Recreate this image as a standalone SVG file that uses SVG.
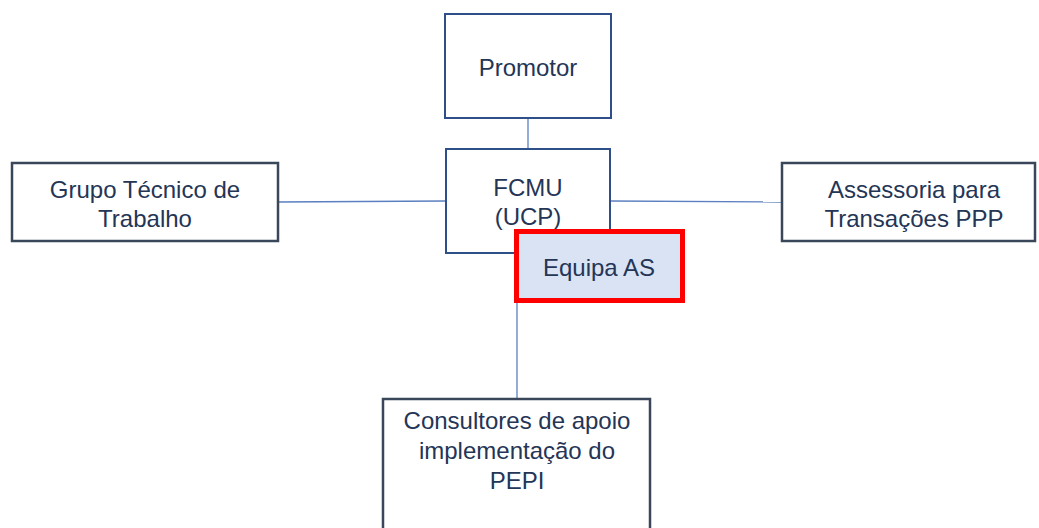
<svg xmlns="http://www.w3.org/2000/svg" width="1039" height="528" viewBox="0 0 1039 528">
<style>
.box{fill:#fff;stroke:#2F4F8A;stroke-width:2}
.gbox{fill:#fff;stroke:#3A475A;stroke-width:2.5}
.t{font-family:"Liberation Sans",Arial,sans-serif;font-size:24px;fill:#243556;text-anchor:middle}
.c{stroke:#5B7FC0;stroke-width:1.3;fill:none}
</style>
<rect width="1039" height="528" fill="#fff"/>
<g id="connectors">
<line class="c" x1="528" y1="118" x2="528" y2="149"/>
<line class="c" x1="278" y1="202" x2="446" y2="201"/>
<line class="c" x1="610" y1="201" x2="782" y2="202"/>
<line class="c" x1="517" y1="268" x2="517" y2="399"/>
</g>
<g id="promotor">
<rect class="box" x="445" y="14" width="166" height="104" stroke-width="3"/>
<text class="t" x="528" y="76">Promotor</text>
</g>
<g id="fcmu">
<rect class="box" x="446" y="149" width="164" height="104"/>
<text class="t" x="528" y="196">FCMU</text>
<text class="t" x="528" y="225">(UCP)</text>
</g>
<g id="grupo">
<rect class="gbox" x="12" y="163" width="266" height="78"/>
<text class="t" x="145" y="198">Grupo Técnico de</text>
<text class="t" x="145" y="227">Trabalho</text>
</g>
<g id="assessoria">
<rect class="gbox" x="782" y="163" width="253" height="78"/>
<text class="t" x="914" y="198">Assessoria para</text>
<text class="t" x="914" y="227">Transações PPP</text>
</g>
<g id="equipa">
<rect x="516.5" y="231.5" width="166" height="69" fill="#DAE3F3" stroke="#FF0000" stroke-width="5"/>
<text class="t" x="599" y="276">Equipa AS</text>
</g>
<g id="consultores">
<rect class="gbox" x="383" y="399" width="267" height="140"/>
<text class="t" x="517" y="429">Consultores de apoio</text>
<text class="t" x="517" y="459">implementação do</text>
<text class="t" x="517" y="489">PEPI</text>
</g>
</svg>
